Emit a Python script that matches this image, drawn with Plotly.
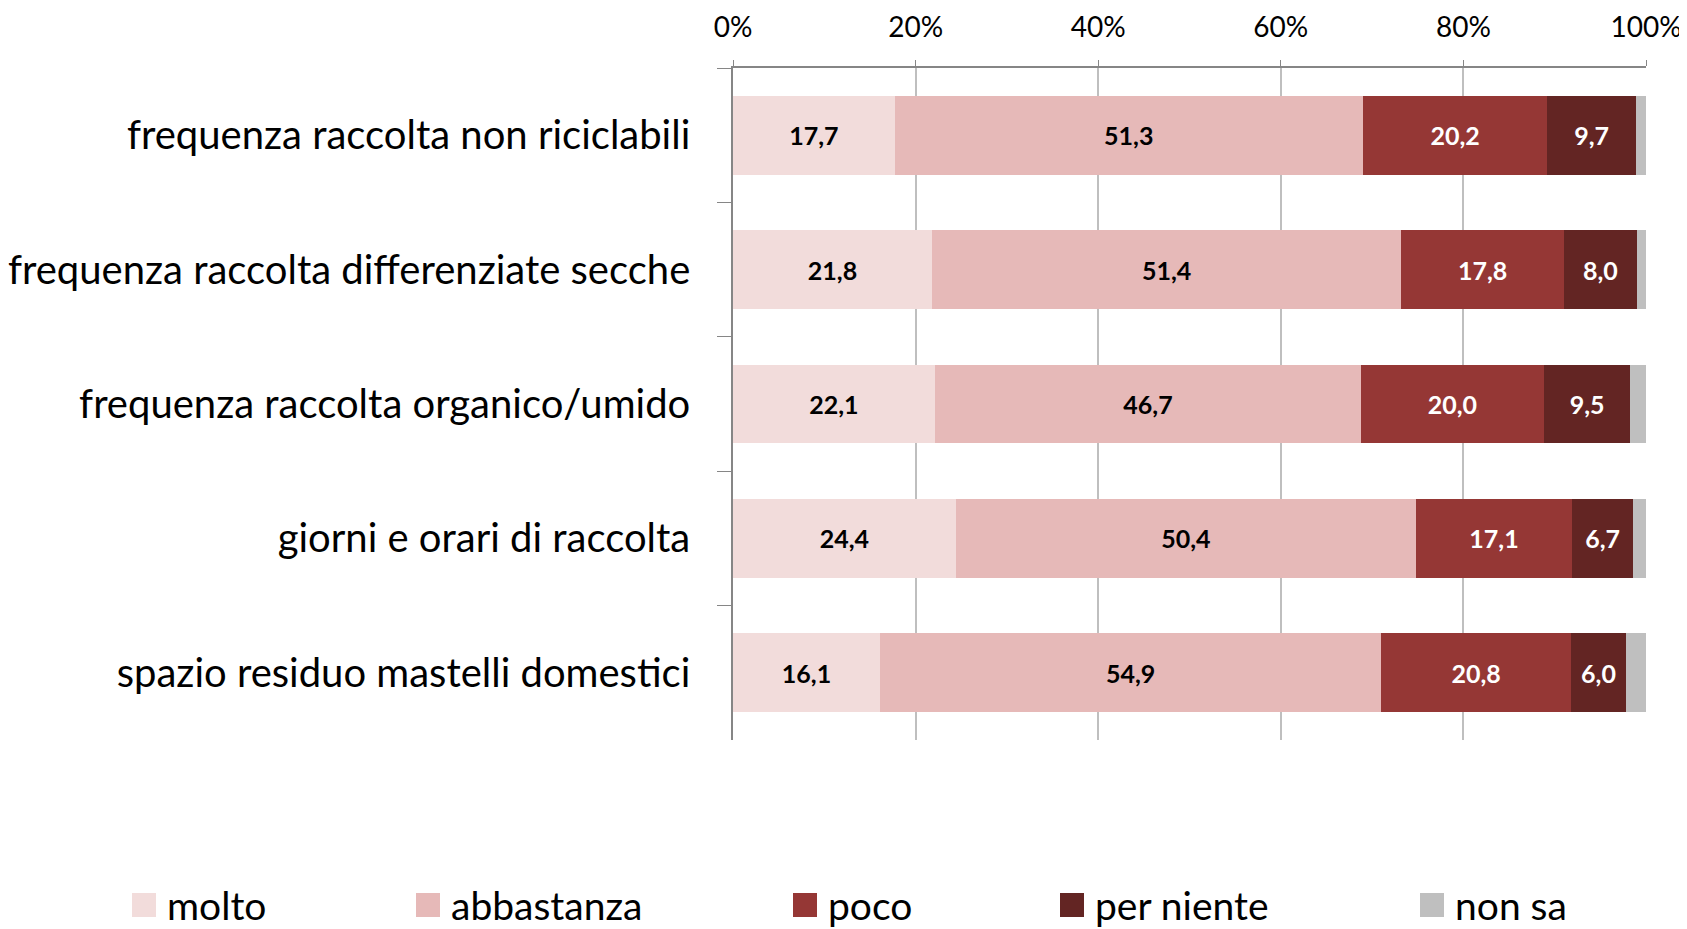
import plotly.graph_objects as go

# Survey items (top to bottom) and answer shares in percent
categories = [
    "frequenza raccolta non riciclabili",
    "frequenza raccolta differenziate secche",
    "frequenza raccolta organico/umido",
    "giorni e orari di raccolta",
    "spazio residuo mastelli domestici",
]
molto = [17.7, 21.8, 22.1, 24.4, 16.1]
abbastanza = [51.3, 51.4, 46.7, 50.4, 54.9]
poco = [20.2, 17.8, 20.0, 17.1, 20.8]
per_niente = [9.7, 8.0, 9.5, 6.7, 6.0]
non_sa = [1.1, 1.0, 1.7, 1.4, 2.2]

x_ticks = [0, 20, 40, 60, 80, 100]
x_tick_labels = ["0%", "20%", "40%", "60%", "80%", "100%"]

series = [
    ("molto", molto, "#F2DCDB", "black", True),
    ("abbastanza", abbastanza, "#E6B9B8", "black", True),
    ("poco", poco, "#953735", "white", True),
    ("per niente", per_niente, "#632523", "white", True),
    ("non sa", non_sa, "#BFBFBF", "black", False),
]

# the page body has an 8px margin, so the figure is drawn 8px smaller
OFF = 8
W, H = 1687 - OFF, 929 - OFF
ML, MR, MT, MB = 733 - OFF, 41, 68 - OFF, 189
plot_w = W - ML - MR
plot_h = H - MT - MB

# legend swatch left edges and vertical centre (page pixels)
legend_x = [132, 416, 793, 1060, 1420]
legend_y = 905
swatch = 24


def px_to_paper_x(px):
    return (px - OFF - ML) / plot_w


def px_to_paper_y(py):
    return (H - MB - (py - OFF)) / plot_h


fig = go.Figure()
for name, vals, color, txtcolor, show_text in series:
    fig.add_trace(go.Bar(
        y=categories,
        x=vals,
        name=name,
        orientation="h",
        marker=dict(color=color, line=dict(width=0)),
        text=[f"{v:.1f}".replace(".", ",") for v in vals] if show_text else None,
        textposition="inside" if show_text else "none",
        insidetextanchor="middle",
        textangle=0,
        textfont=dict(family="Lato", size=25, color=txtcolor, weight="bold"),
        showlegend=False,
        hoverinfo="skip",
    ))

# legend drawn as swatches + text below the chart
for (name, vals, color, txtcolor, show_text), lx in zip(series, legend_x):
    fig.add_shape(
        type="rect", xref="paper", yref="paper",
        x0=px_to_paper_x(lx), x1=px_to_paper_x(lx + swatch),
        y0=px_to_paper_y(legend_y + swatch / 2), y1=px_to_paper_y(legend_y - swatch / 2),
        fillcolor=color, line=dict(width=0),
    )
    fig.add_annotation(
        text=name, xref="paper", yref="paper",
        x=px_to_paper_x(lx + swatch + 9), y=px_to_paper_y(legend_y),
        xanchor="left", yanchor="middle", showarrow=False,
        font=dict(family="Lato", size=39, color="black"),
    )

fig.update_layout(
    barmode="stack",
    bargap=0.415,
    width=W,
    height=H,
    margin=dict(l=ML, r=MR, t=MT, b=MB, autoexpand=False),
    paper_bgcolor="white",
    plot_bgcolor="white",
    showlegend=False,
)

fig.update_xaxes(
    side="top",
    range=[0, 100],
    tickvals=x_ticks,
    ticktext=x_tick_labels,
    showgrid=True,
    gridcolor="#BFBFBF",
    gridwidth=1.5,
    showline=True,
    linecolor="#868686",
    linewidth=1.5,
    ticks="outside",
    ticklen=6,
    tickcolor="#868686",
    tickfont=dict(family="Lato", size=28, color="black"),
    ticklabelstandoff=12,
    zeroline=False,
    automargin=False,
    fixedrange=True,
)

fig.update_yaxes(
    categoryorder="array",
    categoryarray=categories,
    autorange="reversed",
    showline=True,
    linecolor="#868686",
    linewidth=1.5,
    ticks="outside",
    tickson="boundaries",
    ticklen=14,
    tickcolor="#868686",
    tickfont=dict(family="Lato", size=40, color="black"),
    ticklabelstandoff=33,
    showgrid=False,
    automargin=False,
    fixedrange=True,
)

fig.write_html("out.html")
